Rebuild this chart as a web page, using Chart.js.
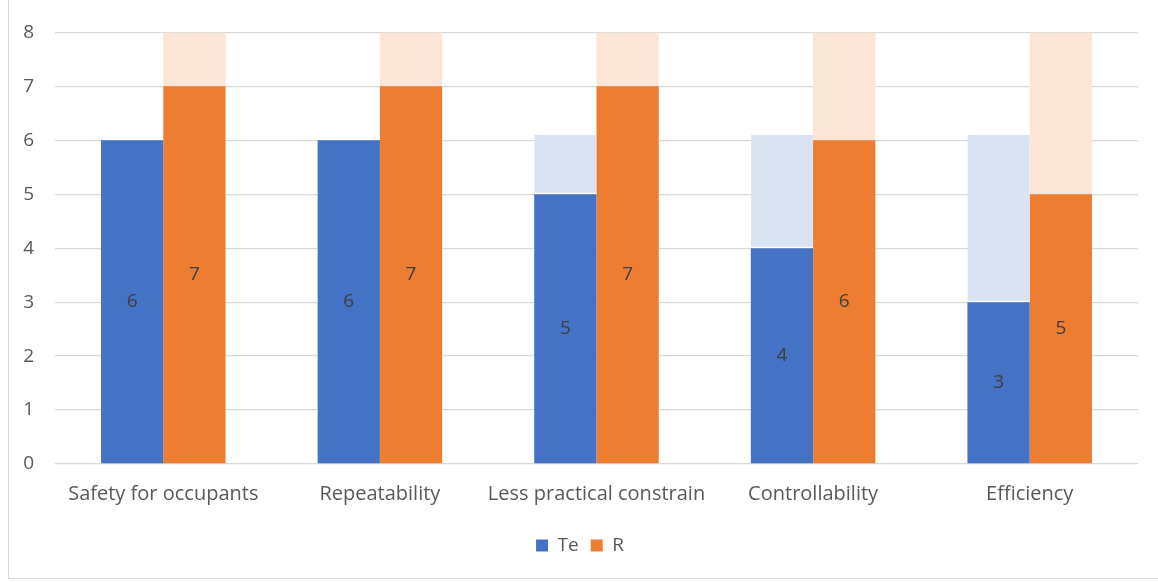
<!DOCTYPE html>
<html>
<head>
<meta charset="utf-8">
<script src="https://cdn.jsdelivr.net/npm/chart.js@4.4.1/dist/chart.umd.min.js"></script>
<style>
  html, body { margin: 0; padding: 0; background: #ffffff; }
  #wrap { position: relative; width: 1158px; height: 582px; overflow: hidden; }
  #frame { position: absolute; left: 8px; top: -2px; width: 1160px; height: 581px;
           border-left: 1px solid #d9d9d9; border-bottom: 1px solid #d9d9d9; box-sizing: border-box; }
  canvas { position: absolute; left: 0; top: 0; }
</style>
</head>
<body>
<div id="wrap">
  <div id="frame"></div>
  <canvas id="c" width="1158" height="582"></canvas>
</div>
<script>
// Categories and scores
const categories = ['Safety for occupants', 'Repeatability', 'Less practical constrain', 'Controllability', 'Efficiency'];
const teScores = [6, 6, 5, 4, 3];
const rScores  = [7, 7, 7, 6, 5];
// Upper bound of each score range (shaded part above the score)
const teUpper = [6, 6, 6.1, 6.1, 6.1];
const rUpper  = [8, 8, 8, 8, 8];
const yTicks = [0, 1, 2, 3, 4, 5, 6, 7, 8];

const FONT = '"Open Sans", Lato, sans-serif';
const TEXT = '#595959';

const teRest = teUpper.map((u, i) => +(u - teScores[i]).toFixed(2));
const rRest  = rUpper.map((u, i) => +(u - rScores[i]).toFixed(2));

// Writes each score at the middle of its solid segment
const valueLabels = {
  id: 'valueLabels',
  afterDatasetsDraw(chart) {
    const ctx = chart.ctx;
    ctx.save();
    ctx.font = '19px ' + FONT;
    ctx.fillStyle = '#404040';
    ctx.textAlign = 'center';
    ctx.textBaseline = 'middle';
    chart.data.datasets.forEach((ds, di) => {
      if (!ds.showValue) return;
      chart.getDatasetMeta(di).data.forEach((bar, i) => {
        const p = bar.getProps(['x', 'y', 'base'], true);
        ctx.fillText(String(ds.data[i]), p.x, (p.y + p.base) / 2);
      });
    });
    ctx.restore();
  }
};

new Chart(document.getElementById('c'), {
  type: 'bar',
  data: {
    labels: categories,
    datasets: [
      { label: 'Te', data: teScores, stack: 'te', backgroundColor: '#4472C4', showValue: true },
      { label: 'Te range', data: teRest, stack: 'te', backgroundColor: '#DAE3F3',
        borderColor: '#ffffff', borderWidth: { bottom: 1.5, top: 0, left: 0, right: 0 }, borderSkipped: false },
      { label: 'R', data: rScores, stack: 'r', backgroundColor: '#ED7D31', showValue: true },
      { label: 'R range', data: rRest, stack: 'r', backgroundColor: '#FBE5D6' }
    ]
  },
  options: {
    responsive: false,
    animation: false,
    datasets: { bar: { categoryPercentage: 0.575, barPercentage: 1 } },
    layout: { padding: { top: 31, right: 20, left: 22, bottom: 17 } },
    scales: {
      x: {
        stacked: true,
        grid: { display: false, drawTicks: false },
        border: { display: false },
        ticks: { color: TEXT, font: { family: FONT, size: 20 }, padding: 18,
                 maxRotation: 0, minRotation: 0, autoSkip: false },
        afterFit(s) { s.height = 60; s.paddingLeft = 0; s.paddingRight = 0; }
      },
      y: {
        stacked: true,
        min: 0, max: 8,
        afterBuildTicks(s) { s.ticks = yTicks.map(v => ({ value: v })); },
        grid: { color: '#d9d9d9', lineWidth: 1.3, drawTicks: false },
        border: { display: false },
        ticks: { color: TEXT, font: { family: FONT, size: 19 }, padding: 21 },
        afterFit(s) { s.width = 33; }
      }
    },
    plugins: {
      legend: {
        position: 'bottom',
        labels: {
          filter: item => item.text === 'Te' || item.text === 'R',
          color: TEXT,
          font: { family: FONT, size: 19 },
          boxWidth: 12, boxHeight: 12, padding: 12
        }
      },
      tooltip: { enabled: false }
    }
  },
  plugins: [valueLabels]
});
</script>
</body>
</html>
